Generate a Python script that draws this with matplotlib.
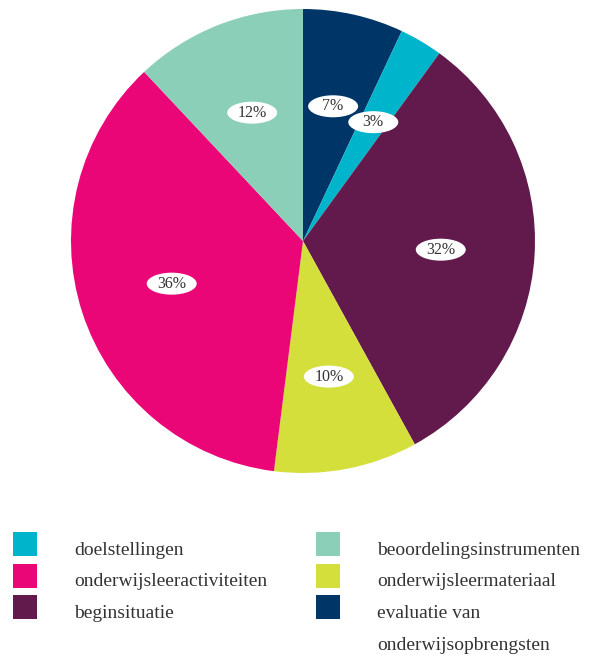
import matplotlib
matplotlib.use("Agg")
import matplotlib.pyplot as plt
from matplotlib.patches import Rectangle, Ellipse

# Slices, clockwise from 12 o'clock
categories = ["evaluatie van\nonderwijsopbrengsten", "doelstellingen", "beginsituatie",
              "onderwijsleermateriaal", "onderwijsleeractiviteiten", "beoordelingsinstrumenten"]
values = [7, 3, 32, 10, 36, 12]
colors = ["#003567", "#00b5cb", "#621a4c", "#d5df3b", "#eb0678", "#8ccfb9"]

# Legend layout: two columns, read top to bottom
legend_cols = [
    ["doelstellingen", "onderwijsleeractiviteiten", "beginsituatie"],
    ["beoordelingsinstrumenten", "onderwijsleermateriaal", "evaluatie van\nonderwijsopbrengsten"],
]

W, H = 592, 655
fig = plt.figure(figsize=(W / 100, H / 100), dpi=100)

cx, cy, r = 303, 241, 232
ax = fig.add_axes([(cx - r) / W, (H - cy - r) / H, 2 * r / W, 2 * r / H])
wedges, texts = ax.pie(values, colors=colors, startangle=90, counterclock=False,
                       labels=[f"{v}%" for v in values], labeldistance=0.595,
                       wedgeprops=dict(linewidth=0),
                       textprops=dict(family="Liberation Serif", fontsize=11.5, color="#333333",
                                      ha="center", va="center", zorder=5))
# white oval badge behind each percentage
for t in texts:
    x, y = t.get_position()
    ax.add_patch(Ellipse((x, y), 50 / r, 22 / r, fc="white", ec="none", zorder=4))
ax.set_xlim(-1, 1)
ax.set_ylim(-1, 1)
ax.set_aspect("equal")
ax.axis("off")

color_of = dict(zip(categories, colors))
col_sq_x = [13, 316]
col_txt_x = [74, 377]
row_top = [532, 563.5, 595]
sq = 24
line_gap = 31.7
for c, names in enumerate(legend_cols):
    for i, name in enumerate(names):
        fig.patches.append(Rectangle((col_sq_x[c] / W, (H - row_top[i] - sq) / H), sq / W, sq / H,
                                     transform=fig.transFigure, fc=color_of[name], ec="none"))
        for j, line in enumerate(name.split("\n")):
            base = row_top[i] + 23 + j * line_gap
            fig.text(col_txt_x[c] / W, (H - base) / H, line, family="Liberation Serif",
                     fontsize=14, color="#333333", ha="left", va="baseline")

fig.savefig("out.png", dpi=100)
